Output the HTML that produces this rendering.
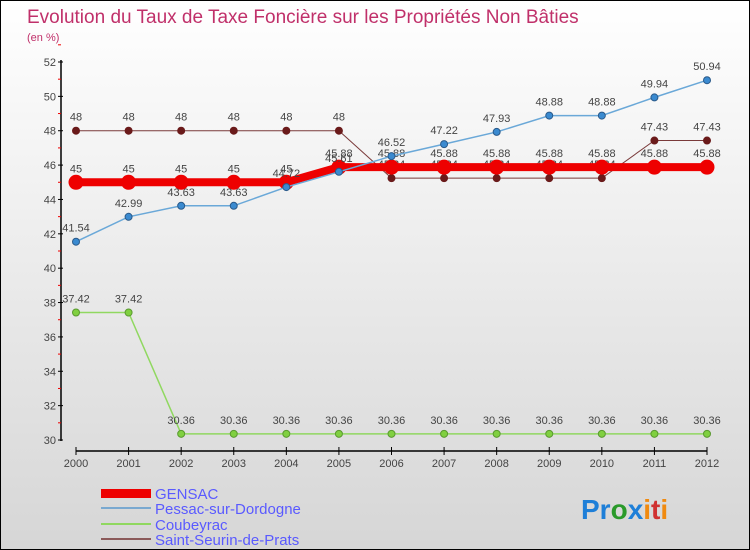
<!DOCTYPE html>
<html><head><meta charset="utf-8"><style>
body{margin:0}
#c{width:748px;height:548px;border:1px solid #000;position:relative;background:linear-gradient(#fff,#d6d6d6);font-family:"Liberation Sans",sans-serif;overflow:hidden}
</style></head><body>
<div id="c">
<svg id="s" width="748" height="548">
<text x="26" y="22" font-size="19" fill="#c0306a">Evolution du Taux de Taxe Foncière sur les Propriétés Non Bâties</text>
<text x="26" y="40" font-size="11" fill="#c0306a">(en %)</text>
<g id="axes"></g><g id="series"></g>
<g>
<rect x="100" y="488" width="50" height="9" fill="#e00"/>
<text x="154" y="498" font-size="15" fill="#5a5aff">GENSAC</text>
<rect x="100" y="506" width="50" height="2" fill="#7aa9d0"/>
<text x="154" y="513" font-size="15" fill="#5a5aff">Pessac-sur-Dordogne</text>
<rect x="100" y="522" width="50" height="2" fill="#90d860"/>
<text x="154" y="529" font-size="15" fill="#5a5aff">Coubeyrac</text>
<rect x="100" y="537" width="50" height="2" fill="#8b5a5a"/>
<text x="154" y="544" font-size="15" fill="#5a5aff">Saint-Seurin-de-Prats</text>
</g>
<text x="580" y="518" font-size="28" font-weight="bold"><tspan fill="#1e7fd8">Pr</tspan><tspan fill="#2a9a2a">o</tspan><tspan fill="#1e7fd8">x</tspan><tspan fill="#f08a10">i</tspan><tspan fill="#d03030">t</tspan><tspan fill="#f08a10">i</tspan></text>
</svg></div>
<script>
const years=[2000,2001,2002,2003,2004,2005,2006,2007,2008,2009,2010,2011,2012];
const yTicks=[30,32,34,36,38,40,42,44,46,48,50,52];
const gensac=[45,45,45,45,45,45.88,45.88,45.88,45.88,45.88,45.88,45.88,45.88];
const pessac=[41.54,42.99,43.63,43.63,44.72,45.61,46.52,47.22,47.93,48.88,48.88,49.94,50.94];
const coubeyrac=[37.42,37.42,30.36,30.36,30.36,30.36,30.36,30.36,30.36,30.36,30.36,30.36,30.36];
const seurin=[48,48,48,48,48,48,45.24,45.24,45.24,45.24,45.24,47.43,47.43];
const NS="http://www.w3.org/2000/svg";
const xs=i=>75+i*(631/12);
const ys=v=>439-(v-30)*(378/22);
function el(t,a,p){const e=document.createElementNS(NS,t);for(const k in a)e.setAttribute(k,a[k]);p.appendChild(e);return e;}
const ax=document.getElementById('axes');
let yl=el('line',{x1:60,y1:59,x2:60,y2:440,stroke:'#000','stroke-width':1.5},ax);


yTicks.forEach(v=>{
 el('line',{x1:57,x2:62,y1:ys(v),y2:ys(v),stroke:'#000'},ax);
 el('line',{x1:57,x2:60,y1:ys(v+1),y2:ys(v+1),stroke:'#e00'},ax);
 const t=el('text',{x:55,y:ys(v)+4,'font-size':11,'text-anchor':'end',fill:'#444'},ax);t.textContent=v;
 
 
});
let xl=el('line',{x1:75,y1:450,x2:706,y2:450,stroke:'#000','stroke-width':1.5},ax);


years.forEach((y,i)=>{
 el('line',{x1:xs(i),x2:xs(i),y1:446,y2:454,stroke:'#000'},ax);
 const t=el('text',{x:xs(i),y:466,'font-size':11,'text-anchor':'middle',fill:'#444'},ax);t.textContent=y;
 
 
});
const sg=document.getElementById('series');
function draw(vals,name,color,w,r,dot,stroke){
 const g=el('g',{},sg);
 
 
 el('polyline',{points:vals.map((v,i)=>xs(i)+','+ys(v)).join(' '),fill:'none',stroke:color,'stroke-width':w},g);
 vals.forEach((v,i)=>{
  const c=el('circle',{cx:xs(i),cy:ys(v),r:r,fill:dot,stroke:stroke,'stroke-width':1},g);
  
  
  const t=el('text',{x:xs(i),y:ys(v)-10,'font-size':11,'text-anchor':'middle',fill:'#444'},g);
  t.textContent=v;
  
  
 });
}
draw(seurin,'saint-seurin','#7a3a3a',1,3.5,'#6a1a1a','#6a1a1a');
draw(coubeyrac,'coubeyrac','#90d860',1.5,3.5,'#80d040','#5a9a30');
draw(gensac,'gensac','#e00',8,7,'#e00','#e00');
draw(pessac,'pessac','#6aa8d8',1.5,3.5,'#3a8ad0','#2a5a8a');
</script>
</body></html>
